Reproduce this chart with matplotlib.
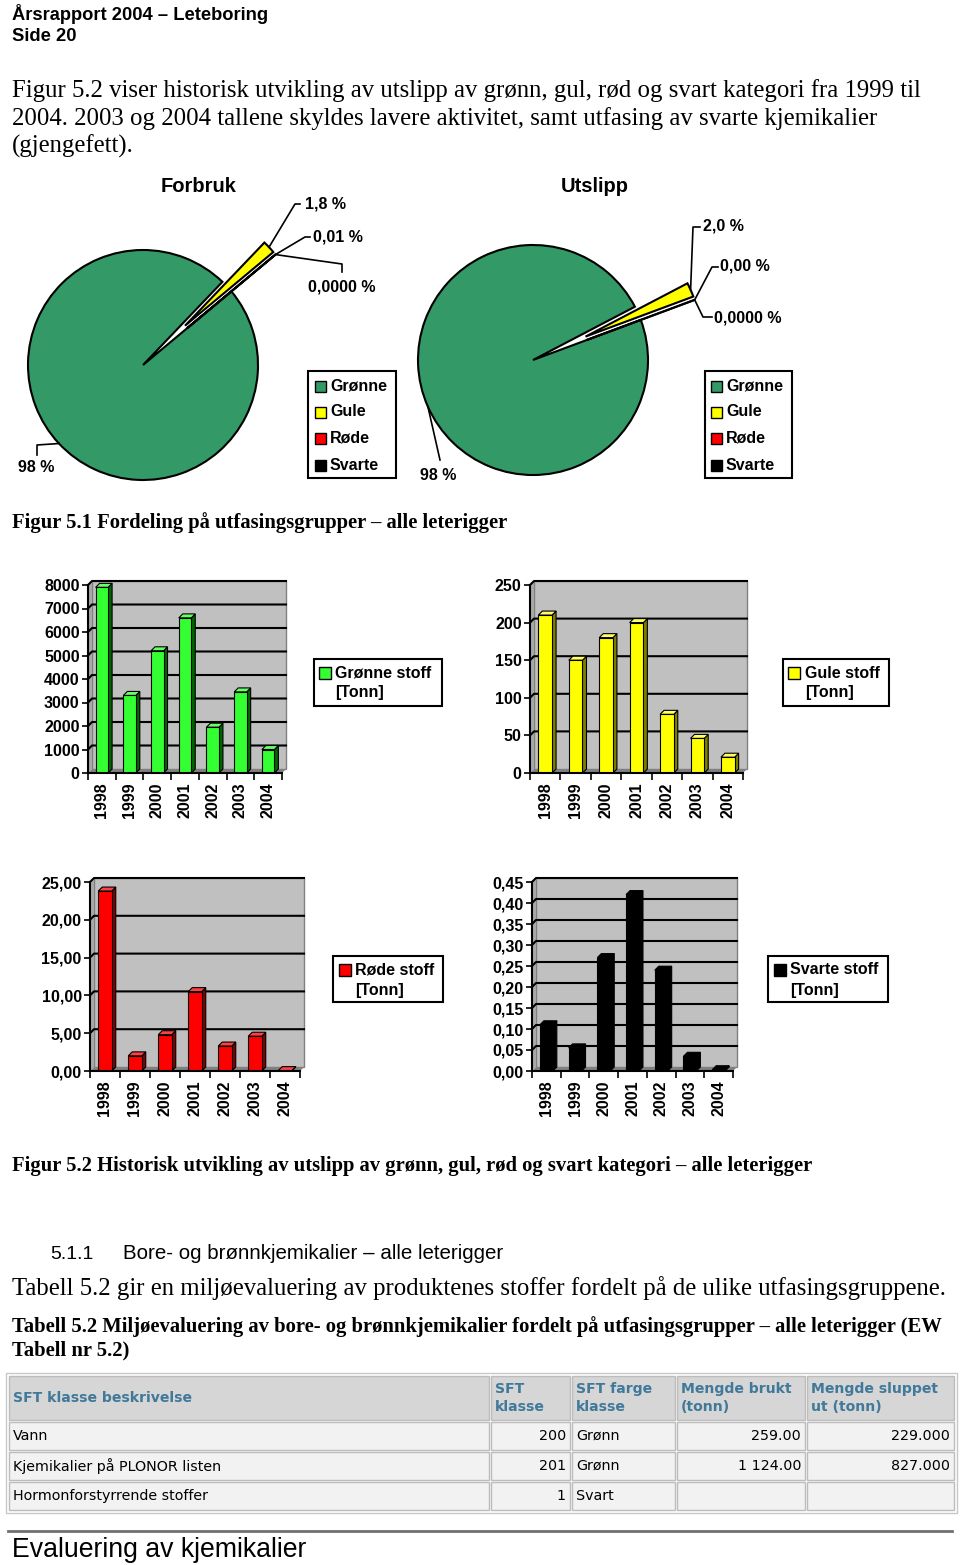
import matplotlib
matplotlib.use('Agg')
import matplotlib.pyplot as plt
from matplotlib.patches import Rectangle, Polygon
import numpy as np

W, H = 960, 1565
SANS = 'Liberation Sans'
SERIF = 'Liberation Serif'
VERD = 'DejaVu Sans'

# pie data (Forbruk / Utslipp)
pie_names = ['Grønne', 'Gule', 'Røde', 'Svarte']
pie_colors = ['#339966', '#ffff00', '#ff0000', '#000000']
forbruk = [98.19, 1.8, 0.01, 0.0]
forbruk_labels = ['98 %', '1,8 %', '0,01 %', '0,0000 %']
utslipp = [98.0, 2.0, 0.0, 0.0]
utslipp_labels = ['98 %', '2,0 %', '0,00 %', '0,0000 %']

# historical discharges [tonn]
years = ['1998', '1999', '2000', '2001', '2002', '2003', '2004']
gronne = [7900, 3300, 5200, 6600, 1950, 3450, 1000]
gule = [210, 150, 180, 200, 78, 46, 21]
rode = [23.8, 2.0, 4.8, 10.5, 3.3, 4.6, 0.05]
svarte = [0.11, 0.055, 0.27, 0.42, 0.24, 0.035, 0.003]

# table 5.2
tab_head = ['SFT klasse beskrivelse', 'SFT\nklasse', 'SFT farge\nklasse',
            'Mengde brukt\n(tonn)', 'Mengde sluppet\nut (tonn)']
tab_rows = [['Vann', '200', 'Grønn', '259.00', '229.000'],
            ['Kjemikalier på PLONOR listen', '201', 'Grønn', '1 124.00', '827.000'],
            ['Hormonforstyrrende stoffer', '1', 'Svart', '', '']]
tab_align = ['left', 'right', 'left', 'right', 'right']

fig = plt.figure(figsize=(W / 100, H / 100), dpi=100)
page = fig.add_axes([0, 0, 1, 1])
page.set_xlim(0, W)
page.set_ylim(H, 0)
page.axis('off')
renderer = fig.canvas.get_renderer()


def box_axes(x0, y0, x1, y1):
    return fig.add_axes([x0 / W, 1 - y1 / H, (x1 - x0) / W, (y1 - y0) / H])


def put(x, y, s, size, fit=None, **kw):
    va = kw.pop('va', 'baseline')
    t = page.text(x, y, s, fontsize=size, va=va, **kw)
    if fit:
        w = t.get_window_extent(renderer).width
        t.set_fontsize(size * fit / w)
    return t


def legend(box, sq_x, txt_x, rows, sq=11):
    x0, y0, x1, y1 = box
    page.add_patch(Rectangle((x0, y0), x1 - x0, y1 - y0, fill=False,
                             edgecolor='black', lw=1.5))
    for colour, text, yc in rows:
        if colour is not None:
            page.add_patch(Rectangle((sq_x, yc - sq / 2), sq, sq, facecolor=colour,
                                     edgecolor='black', lw=1))
        page.text(txt_x, yc, text, fontsize=11.5, fontweight='bold',
                  family=SANS, va='center')


def pie(box, centre, values, start, labels, leaders, title, title_x):
    x0, y0, x1, y1 = box
    cx, cy = centre
    R = 115.0
    ax = box_axes(*box)
    wedges, _ = ax.pie(values, colors=pie_colors, explode=[0, 0.5, 0.5, 0.5],
                       startangle=start, counterclock=False,
                       wedgeprops=dict(edgecolor='black', linewidth=1.5))
    ax.set_aspect('auto')
    ax.set_xlim((x0 - cx) / R, (x1 - cx) / R)
    ax.set_ylim((cy - y1) / R, (cy - y0) / R)
    ax.axis('off')
    for w, lab, (path, tx, ty, ha) in zip(wedges, labels, leaders):
        mid = np.deg2rad((w.theta1 + w.theta2) / 2)
        px = [w.center[0] + w.r * np.cos(mid)] + [(p[0] - cx) / R for p in path]
        py = [w.center[1] + w.r * np.sin(mid)] + [(cy - p[1]) / R for p in path]
        ax.plot(px, py, color='black', lw=1.2, clip_on=False)
        put(tx, ty, lab, 11.5, fontweight='bold', family=SANS, ha=ha, va='center')
    put(title_x, 192, title, 14.5, fontweight='bold', family=SANS, ha='center')


def bars(front, values, ymax, step, decimals, face, side, top):
    x0, y0, x1, y1 = front
    n = len(values)
    ax = box_axes(*front)
    ax.set_xlim(0, n)
    ax.set_ylim(0, ymax)
    ax.patch.set_visible(False)
    d = 4
    ddx = d * n / (x1 - x0)
    ddy = d * ymax / (y1 - y0)
    ax.add_patch(Rectangle((ddx, ddy), n, ymax, facecolor='#c0c0c0',
                           edgecolor='#808080', lw=1, zorder=0, clip_on=False))
    ax.add_patch(Polygon([(0, 0), (ddx, ddy), (ddx, ymax + ddy), (0, ymax)],
                         facecolor='#a8a8a8', edgecolor='none', zorder=0, clip_on=False))
    ax.add_patch(Polygon([(0, 0), (n, 0), (n + ddx, ddy), (ddx, ddy)],
                         facecolor='#808080', edgecolor='none', zorder=0.5, clip_on=False))
    ticks = np.arange(0, ymax + step / 2, step)
    for t in ticks[1:]:
        ax.plot([0, ddx, n + ddx], [t, t + ddy, t + ddy], color='black', lw=1.5,
                zorder=1, clip_on=False)
    xs = np.arange(n) + 0.5
    wd = 0.45
    ax.bar(xs, values, wd, color=face, edgecolor='black', lw=0.8, zorder=3)
    for xc, v in zip(xs, values):
        l, r = xc - wd / 2, xc + wd / 2
        ax.add_patch(Polygon([(r, 0), (r + ddx, ddy), (r + ddx, v + ddy), (r, v)],
                             facecolor=side, edgecolor='black', lw=0.8, zorder=2.5,
                             clip_on=False))
        ax.add_patch(Polygon([(l, v), (r, v), (r + ddx, v + ddy), (l + ddx, v + ddy)],
                             facecolor=top, edgecolor='black', lw=0.8, zorder=2.5,
                             clip_on=False))
    for s in ['top', 'right']:
        ax.spines[s].set_visible(False)
    for s in ['left', 'bottom']:
        ax.spines[s].set_linewidth(1.5)
        ax.spines[s].set_zorder(4)
    labs = [f'{t:.{decimals}f}'.replace('.', ',') for t in ticks]
    ax.set_yticks(ticks, labels=labs, fontweight='bold', family=SANS, fontsize=11.5)
    ax.set_xticks(np.arange(n + 1), labels=[''] * (n + 1))
    ax.set_xticks(xs, labels=years, minor=True, rotation=90, fontweight='bold',
                  family=SANS, fontsize=11.5)
    ax.tick_params(axis='y', direction='out', length=4, width=1.2, pad=2)
    ax.tick_params(axis='x', which='major', direction='out', length=5, width=1.2)
    ax.tick_params(axis='x', which='minor', length=0, pad=7)


# header and intro text
t = put(12, 20, 'Årsrapport 2004 – Leteboring', 12.5, fit=258, fontweight='bold', family=SANS)
put(12, 41, 'Side 20', t.get_fontsize(), fontweight='bold', family=SANS)
t = put(12, 97, 'Figur 5.2 viser historisk utvikling av utslipp av grønn, gul, rød og svart '
        'kategori fra 1999 til', 16, fit=906, family=SERIF)
put(12, 125, '2004. 2003 og 2004 tallene skyldes lavere aktivitet, samt utfasing av svarte '
    'kjemikalier', t.get_fontsize(), family=SERIF)
put(12, 153, '(gjengefett).', t.get_fontsize(), family=SERIF)

# pies
pie((0, 170, 400, 490), (143, 365), forbruk, 39.8, forbruk_labels,
    [([(37, 445), (37, 455)], 18, 467, 'left'),
     ([(295, 204), (300, 204)], 305, 204, 'left'),
     ([(305, 237), (310, 237)], 313, 237, 'left'),
     ([(342, 264), (342, 272)], 342, 287, 'center')],
    'Forbruk', 199)
pie((400, 170, 800, 490), (533, 360), utslipp, 20.4, utslipp_labels,
    [([(440, 460)], 420, 475, 'left'),
     ([(693, 227), (700, 227)], 703, 226, 'left'),
     ([(712, 267), (718, 267)], 720, 266, 'left'),
     ([(703, 317), (712, 317)], 714, 318, 'left')],
    'Utslipp', 595)
legend((308, 371, 396, 478), 315, 330,
       [(c, n, y) for c, n, y in zip(pie_colors, pie_names, [386, 412, 438, 465])])
legend((705, 371, 792, 478), 711, 726,
       [(c, n, y) for c, n, y in zip(pie_colors, pie_names, [386, 412, 438, 465])])

put(12, 528, 'Figur 5.1 Fordeling på utfasingsgrupper – alle leterigger', 13.5, fit=496,
    fontweight='bold', family=SERIF)

# bar charts
bars((88, 585, 282, 773), gronne, 8000, 1000, 0, '#33ff33', '#006600', '#66ff66')
legend((314, 659, 442, 706), 319, 335,
       [('#33ff33', 'Grønne stoff', 673), (None, '[Tonn]', 693)], sq=12)
bars((530, 585, 743, 773), gule, 250, 50, 0, '#ffff00', '#808000', '#ffff66')
legend((783, 659, 889, 706), 788, 805,
       [('#ffff00', 'Gule stoff', 673), (None, '[Tonn]', 693)], sq=12)
bars((90, 882, 300, 1071), rode, 25, 5, 2, '#ff0000', '#800000', '#ff4040')
legend((333, 956, 443, 1002), 339, 355,
       [('#ff0000', 'Røde stoff', 970), (None, '[Tonn]', 990)], sq=12)
bars((532, 882, 733, 1071), svarte, 0.45, 0.05, 2, '#000000', '#000000', '#000000')
legend((768, 956, 888, 1002), 774, 790,
       [('#000000', 'Svarte stoff', 970), (None, '[Tonn]', 990)], sq=12)

put(12, 1171, 'Figur 5.2 Historisk utvikling av utslipp av grønn, gul, rød og svart kategori '
    '– alle leterigger', 13.5, fit=801, fontweight='bold', family=SERIF)

# section text
put(50, 1259, '5.1.1', 14, family=SANS)
put(123, 1259, 'Bore- og brønnkjemikalier – alle leterigger', 14, fit=384, family=SANS)
put(12, 1295, 'Tabell 5.2 gir en miljøevaluering av produktenes stoffer fordelt på de ulike '
    'utfasingsgruppene.', 17, fit=934, family=SERIF)
t = put(12, 1332, 'Tabell 5.2 Miljøevaluering av bore- og brønnkjemikalier fordelt på '
        'utfasingsgrupper – alle leterigger (EW', 14, fit=934, fontweight='bold', family=SERIF)
put(12, 1355, 'Tabell nr 5.2)', t.get_fontsize(), fontweight='bold', family=SERIF)

# table
cols = [8, 490, 571, 676, 806, 955]
rows_y = [1375, 1421, 1451, 1481, 1511]
page.add_patch(Rectangle((6, 1373), 951, 140, facecolor='white', edgecolor='#c8c8c8', lw=1))
for i in range(len(rows_y) - 1):
    y0, y1 = rows_y[i], rows_y[i + 1]
    cells = tab_head if i == 0 else tab_rows[i - 1]
    for j in range(len(cols) - 1):
        x0, x1 = cols[j], cols[j + 1]
        page.add_patch(Rectangle((x0 + 1, y0 + 1), x1 - x0 - 2, y1 - y0 - 2,
                                 facecolor='#d6d6d6' if i == 0 else '#f2f2f2',
                                 edgecolor='#bcbcbc', lw=1))
        yc = (y0 + y1) / 2
        if i == 0:
            page.text(x0 + 5, yc, cells[j], fontsize=10.1, fontweight='bold', family=VERD,
                      color='#41799a', va='center', linespacing=1.3)
        elif tab_align[j] == 'left':
            page.text(x0 + 5, yc, cells[j], fontsize=10.3, family=VERD, va='center')
        else:
            page.text(x1 - 5, yc, cells[j], fontsize=10.3, family=VERD, va='center', ha='right')

page.plot([8, 952], [1531, 1531], color='#707070', lw=2)
put(12, 1557, 'Evaluering av kjemikalier', 17, fit=296, family=SANS)

fig.savefig('out.png', dpi=100)
